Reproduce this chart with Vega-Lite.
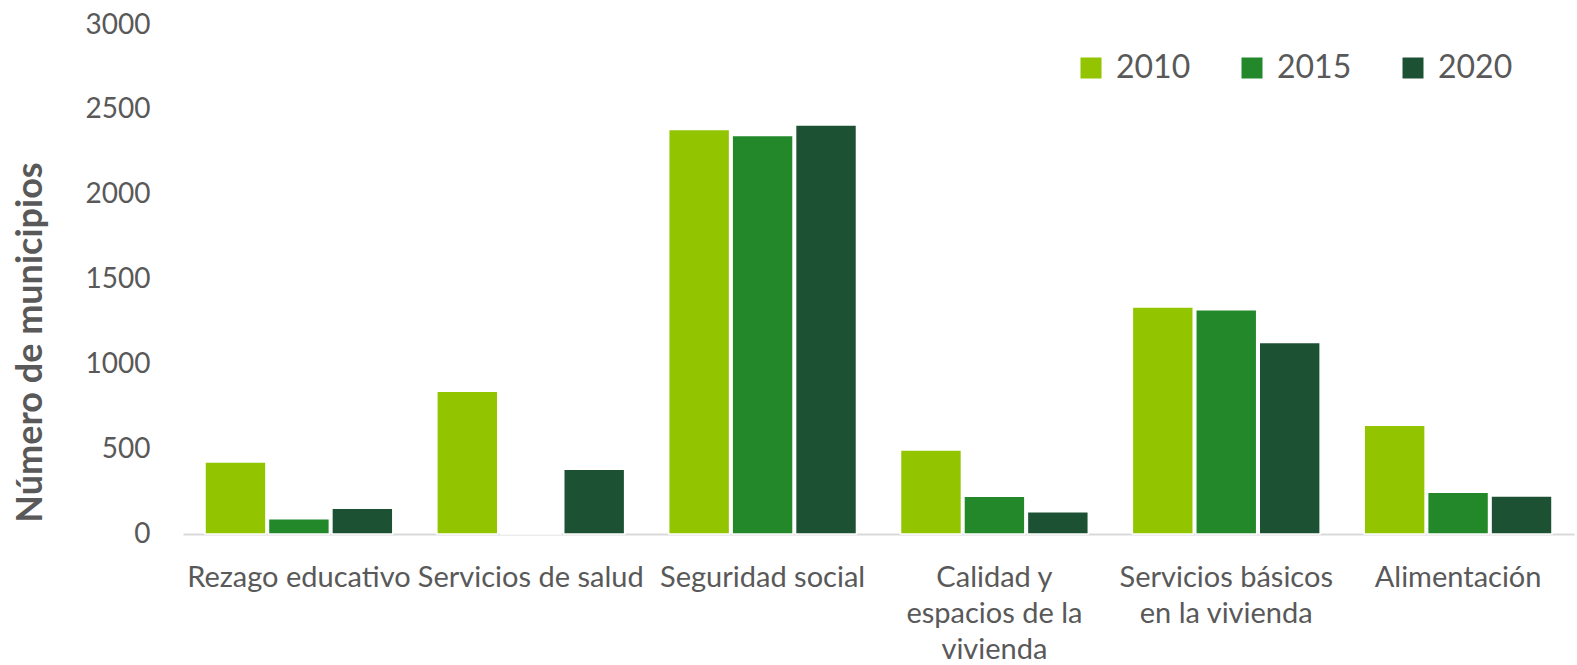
{
  "$schema": "https://vega.github.io/schema/vega-lite/v6.json",
  "autosize": {"type": "none"},
  "padding": {"left": 183, "top": 25, "right": 3, "bottom": 131},
  "width": 1391,
  "height": 509,
  "background": "white",
  "config": {
    "view": {"stroke": null},
    "font": "Lato",
    "axis": {"labelFont": "Lato", "titleFont": "Lato", "labelColor": "#595959", "titleColor": "#595959"},
    "legend": {"labelFont": "Lato", "labelColor": "#595959"}
  },
  "data": {
    "values": [
      {"indicador": "Rezago educativo", "anio": "2010", "municipios": 425},
      {"indicador": "Rezago educativo", "anio": "2015", "municipios": 90},
      {"indicador": "Rezago educativo", "anio": "2020", "municipios": 152},
      {"indicador": "Servicios de salud", "anio": "2010", "municipios": 841},
      {"indicador": "Servicios de salud", "anio": "2015", "municipios": 8},
      {"indicador": "Servicios de salud", "anio": "2020", "municipios": 381},
      {"indicador": "Seguridad social", "anio": "2010", "municipios": 2384},
      {"indicador": "Seguridad social", "anio": "2015", "municipios": 2349},
      {"indicador": "Seguridad social", "anio": "2020", "municipios": 2410},
      {"indicador": "Calidad y espacios de la vivienda", "anio": "2010", "municipios": 495},
      {"indicador": "Calidad y espacios de la vivienda", "anio": "2015", "municipios": 222},
      {"indicador": "Calidad y espacios de la vivienda", "anio": "2020", "municipios": 131},
      {"indicador": "Servicios básicos en la vivienda", "anio": "2010", "municipios": 1338},
      {"indicador": "Servicios básicos en la vivienda", "anio": "2015", "municipios": 1321},
      {"indicador": "Servicios básicos en la vivienda", "anio": "2020", "municipios": 1128},
      {"indicador": "Alimentación", "anio": "2010", "municipios": 641},
      {"indicador": "Alimentación", "anio": "2015", "municipios": 246},
      {"indicador": "Alimentación", "anio": "2020", "municipios": 224}
    ]
  },
  "mark": {"type": "bar", "stroke": "white", "strokeWidth": 1.5},
  "encoding": {
    "x": {
      "field": "indicador",
      "type": "nominal",
      "sort": null,
      "scale": {"paddingInner": 0.19, "paddingOuter": 0.095},
      "axis": {
        "title": null,
        "labelAngle": 0,
        "labelFontSize": 29,
        "labelPadding": 29,
        "labelLineHeight": 36,
        "labelBaseline": "top",
        "labelLimit": 0,
        "labelOverlap": false,
        "ticks": false,
        "domainColor": "#d9d9d9",
        "domainWidth": 2,
        "labelExpr": "datum.label == 'Calidad y espacios de la vivienda' ? ['Calidad y', 'espacios de la', 'vivienda'] : datum.label == 'Servicios básicos en la vivienda' ? ['Servicios básicos', 'en la vivienda'] : datum.label"
      }
    },
    "xOffset": {"field": "anio", "type": "nominal", "scale": {"paddingInner": 0.04}},
    "y": {
      "field": "municipios",
      "type": "quantitative",
      "scale": {"domain": [0, 3000]},
      "axis": {
        "title": "Número de municipios",
        "titleFontSize": 36,
        "titleFontWeight": "bold",
        "titleX": -153,
        "titleY": 317,
        "titleAngle": -90,
        "titleAlign": "center",
        "titleBaseline": "middle",
        "values": [0, 500, 1000, 1500, 2000, 2500, 3000],
        "format": "d",
        "labelFontSize": 28,
        "labelPadding": 33,
        "ticks": false,
        "domain": false,
        "grid": false
      }
    },
    "color": {
      "field": "anio",
      "type": "nominal",
      "scale": {"domain": ["2010", "2015", "2020"], "range": ["#92C500", "#22882A", "#1D5133"]},
      "legend": {
        "title": null,
        "orient": "none",
        "legendX": 892,
        "legendY": 27,
        "direction": "horizontal",
        "symbolType": "square",
        "symbolSize": 441,
        "symbolStrokeWidth": 0,
        "labelFontSize": 32,
        "labelOffset": 9,
        "columnPadding": 45
      }
    }
  }
}
